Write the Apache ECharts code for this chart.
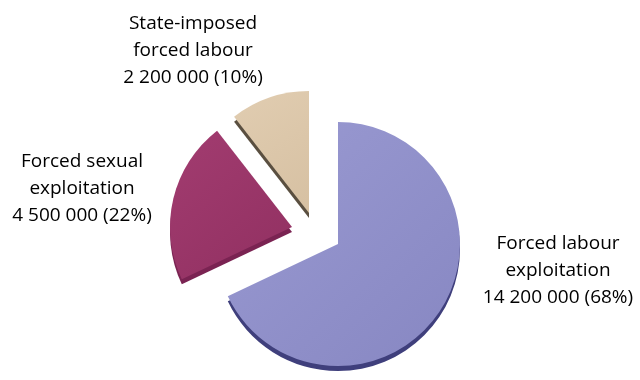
<!DOCTYPE html>
<html><head><meta charset="utf-8">
<script src="https://cdn.jsdelivr.net/npm/echarts@6/dist/echarts.min.js"></script>
<style>html,body{margin:0;background:#fff}#c{width:640px;height:380px}</style>
</head><body><div id="c"></div>
<script>
const categories = ['Forced labour\nexploitation', 'Forced sexual\nexploitation', 'State-imposed\nforced labour'];
const values = [14200000, 4500000, 2200000];

const topColors = [['#9a9ad2', '#8787c2'], ['#a23c70', '#913061'], ['#e1cdb1', '#d6c0a2']];
const sideColors = ['#3f3f7c', '#7a2352', '#5a4f40'];
const centers = [[338, 244], [292, 227], [309, 213]];
const labelPos = [[558, 271], [82, 189], [193, 51]];

function fmt(v) { return String(v).replace(/\B(?=(\d{3})+(?!\d))/g, ' '); }

const series = [];
['side', 'top'].forEach(function (layer, li) {
  values.forEach(function (_, i) {
    series.push({
      type: 'pie',
      z: li + 1,
      radius: 122,
      center: [centers[i][0], centers[i][1] + (layer === 'side' ? 5 : 0)],
      startAngle: 90,
      clockwise: true,
      percentPrecision: 0,
      avoidLabelOverlap: false,
      silent: true,
      animation: false,
      data: values.map(function (v, j) {
        return {
          name: categories[j],
          value: v,
          itemStyle: {
            color: j === i
              ? (layer === 'side' ? sideColors[j] : {
                  type: 'linear', x: 0, y: 0, x2: 1, y2: 1,
                  colorStops: [{ offset: 0, color: topColors[j][0] }, { offset: 1, color: topColors[j][1] }]
                })
              : 'rgba(0,0,0,0)'
          },
          label: { show: layer === 'top' && j === i }
        };
      }),
      label: {
        formatter: function (p) { return p.name + '\n' + fmt(p.value) + ' (' + p.percent + '%)'; },
        fontFamily: 'Open Sans',
        fontSize: 19,
        color: '#000',
        lineHeight: 27,
        align: 'center'
      },
      labelLine: { show: false },
      labelLayout: { x: labelPos[i][0], y: labelPos[i][1], align: 'center', verticalAlign: 'middle' }
    });
  });
});

const chart = echarts.init(document.getElementById('c'), null, { renderer: 'canvas' });
chart.setOption({ backgroundColor: '#fff', animation: false, series: series });
</script>
</body></html>
